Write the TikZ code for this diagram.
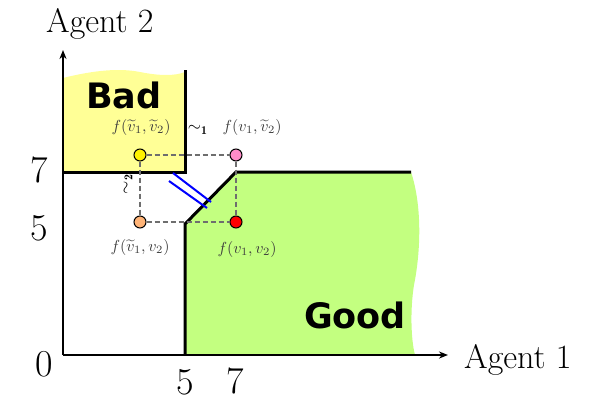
\documentclass[tikz,border=0pt]{standalone}
\usepackage{amsmath}
\usepackage{fontspec}
\newfontfamily\dvsans{DejaVu Sans}
\usetikzlibrary{arrows.meta}
\definecolor{badyellow}{RGB}{255,255,150}
\definecolor{goodgreen}{RGB}{195,255,128}
\definecolor{ptpink}{RGB}{255,140,200}
\definecolor{ptorange}{RGB}{255,180,120}
\definecolor{lblgray}{RGB}{60,60,60}
\definecolor{dashgray}{RGB}{110,110,110}
\begin{document}
\begin{tikzpicture}[x=1pt,y=-1pt,
  axis/.style={line width=2.6pt,-{Stealth[length=9pt,width=7pt]}},
  bound/.style={line width=3pt},
  bigtxt/.style={font=\fontsize{34}{40}\selectfont,inner sep=0pt},
  numtxt/.style={font=\fontsize{38}{44}\selectfont,inner sep=0pt},
  regtxt/.style={font=\dvsans\bfseries\fontsize{35}{40}\selectfont,inner sep=0pt},
  flbl/.style={text=lblgray,font=\fontsize{10}{12}\selectfont,scale=1.6,inner sep=0pt},
  rel/.style={font=\fontsize{10}{12}\selectfont,scale=1.7,inner sep=0pt},
  pt/.style={circle,draw=black,line width=1pt,minimum size=12pt,inner sep=0pt},
  dsh/.style={dashgray,line width=1.5pt,dash pattern=on 5pt off 3pt},
  par/.style={blue,line width=2pt}]
\useasboundingbox (0,0) rectangle (595,402);
% regions
\fill[badyellow] (63,172) -- (63,78) .. controls (95,70) and (120,68) .. (140,72)
  .. controls (160,76) and (175,76) .. (185,72) -- (185,172) -- cycle;
\fill[goodgreen] (185,355) -- (185,224) -- (236,172) -- (411,172)
  .. controls (422,205) and (421,250) .. (414,285)
  .. controls (410,310) and (411,340) .. (415,355) -- cycle;
% boundaries
\coordinate (b1) at (185,70);
\coordinate (b2) at (185,172);
\coordinate (b3) at (63,172);
\draw[bound] (b1) -- (b2) -- (b3);
\coordinate (g1) at (185,355);
\coordinate (g2) at (185,224);
\coordinate (g3) at (236,172);
\coordinate (g4) at (411,172);
\draw[bound] (g1) -- (g2) -- (g3) -- (g4);
% axes
\coordinate (o) at (63,355);
\coordinate (xe) at (448,355);
\coordinate (ye) at (63,50);
\draw[axis] (o) -- (xe);
\draw[axis] (o) -- (ye);
% points
\node[pt,fill=yellow] (yel) at (140,155) {};
\node[pt,fill=ptpink] (pnk) at (236,155) {};
\node[pt,fill=ptorange] (org) at (140,222) {};
\node[pt,fill=red] (rd) at (236,222) {};
\draw[dsh] (yel) -- (pnk);
\draw[dsh] (yel) -- (org);
\draw[dsh] (org) -- (rd);
\draw[dsh] (pnk) -- (rd);
% parallel mark
\coordinate (p1a) at (173,173);
\coordinate (p1b) at (211,202);
\coordinate (p2a) at (169,181);
\coordinate (p2b) at (207,208);
\draw[par] (p1a) -- (p1b);
\draw[par] (p2a) -- (p2b);
% labels
\node[flbl] (l1) at (141,127) {$f(\widetilde{v}_1,\widetilde{v}_2)$};
\node[flbl] (l2) at (252,127) {$f(v_1,\widetilde{v}_2)$};
\node[flbl] (l3) at (140,247) {$f(\widetilde{v}_1,v_2)$};
\node[flbl] (l4) at (247,249) {$f(v_1,v_2)$};
\node[rel] (s1) at (198,130) {$\sim_{\mathbf{1}}$};
\node[rel,rotate=90] (s2) at (128,184) {$\sim_{\mathbf{2}}$};
\node[regtxt] (bad) at (124,95) {Bad};
\node[regtxt] (good) at (355,315) {Good};
\node[bigtxt,anchor=base west] (a2) at (46,32) {Agent 2};
\node[bigtxt,anchor=base west] (a1) at (464,368) {Agent 1};
\node[numtxt] (n0) at (44,364) {0};
\node[numtxt] (x5) at (185,382) {5};
\node[numtxt] (x7) at (235,381) {7};
\node[numtxt] (y7) at (39,170) {7};
\node[numtxt] (y5) at (39,228) {5};
\end{tikzpicture}
\end{document}
